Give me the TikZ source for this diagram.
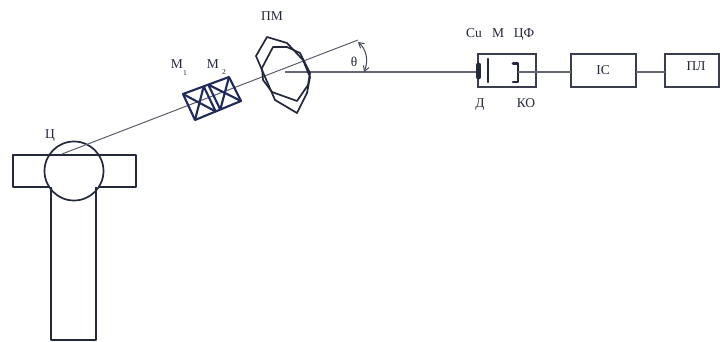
\documentclass[tikz,border=0pt]{standalone}
\usepackage{fontspec}
\setmainfont{Liberation Serif}
\usetikzlibrary{arrows.meta}
\definecolor{ink}{HTML}{23283A}
\definecolor{inkb}{HTML}{1F2A5A}
\tikzset{
  shape line/.style={draw=ink,line width=1.7pt,line join=round},
  blue line/.style={draw=inkb,line width=2.1pt,line join=round},
  ray/.style={draw=ink!75,line width=1pt},
  wire/.style={draw=ink!70,line width=1.2pt},
  blockbox/.style={draw=ink!90,line width=1.5pt,rectangle,inner sep=0pt,outer sep=0pt,anchor=north west},
  lab/.style={font=\fontsize{13.5}{14}\selectfont,text=ink,inner sep=0pt,anchor=base},
  subs/.style={font=\fontsize{7.5}{8}\selectfont,text=ink,inner sep=0pt}
}
\begin{document}
\begin{tikzpicture}[x=1pt,y=-1pt]
\useasboundingbox (0,0) rectangle (721,342);
\fill[white] (0,0) rectangle (721,342);
% stand and tube
\node[blockbox,shape line,fill=white,minimum width=123pt,minimum height=32pt] (bar) at (13,155) {};
\fill[white] (50,185.5) rectangle (98,188.5);
\draw[shape line] (51,187.5) -- (51,340) -- (96,340) -- (96,187.5);
\node[circle,shape line,minimum size=59pt,inner sep=0pt] (tube) at (74,171) {};
% rays
\coordinate (src) at (62,154);
\coordinate (rayend) at (358,40);
\coordinate (pivot) at (285,72);
\coordinate (det) at (477,72);
\draw[ray] (src) -- (rayend);
\draw[wire] (pivot) -- (det);
% angle arc
\draw[ink!85,line width=1pt,{Straight Barb[length=5pt,width=6pt]}-{Straight Barb[length=5pt,width=6pt]}]
  (358,42) .. controls (366,49) and (369,60) .. (364,72);
% collimators
\coordinate (a1) at (183,94); \coordinate (a2) at (195,120);
\coordinate (b1) at (229,77); \coordinate (b2) at (241,101);
\coordinate (c1) at (203.7,86.4); \coordinate (c2) at (215.7,111.5);
\coordinate (d1) at (208.3,84.7); \coordinate (d2) at (220.3,109.6);
\draw[blue line] (a1) -- (b1) -- (b2) -- (a2) -- cycle;
\draw[blue line] (c1) -- (c2) (d1) -- (d2);
\draw[blue line] (a1) -- (c2) (a2) -- (c1) (d1) -- (b2) (d2) -- (b1);
% PM
\draw[shape line] (267,37) -- (256,56) -- (262,70) -- (275,100) -- (297,113) -- (307,93) -- (310,77) -- (303,60) -- (287,43) -- cycle;
\draw[shape line] (273,47) -- (262,68) -- (263,80) -- (272,92) -- (297,101) -- (308,85) -- (310,73) -- (300,53) -- (287,47) -- cycle;
% detector block
\node[blockbox,minimum width=58pt,minimum height=33pt] (cell) at (478,54) {};
\node[blockbox,minimum width=65pt,minimum height=33pt] (ic) at (571,54) {};
\node[blockbox,minimum width=54pt,minimum height=33pt] (pl) at (665,54) {};
\draw[ink,line width=5pt,line cap=round] (478.5,65) -- (478.5,77);
\draw[ink,line width=2.6pt,line cap=round] (488,59) -- (488,82);
\draw[ink,line width=2.6pt,line join=round,line cap=round] (513,63.5) -- (518,63.5) -- (518,82) -- (513,82);
\coordinate (ko) at (518,72);
\coordinate (icout) at (636,72);
\draw[wire] (ko) -- (ko -| ic.west);
\draw[wire] (icout) -- (icout -| pl.west);
% labels
\node[lab] (lc) at (50,139) {Ц};
\node[lab] (lm1) at (177,69) {М};
\node[subs] (s1) at (185,73) {1};
\node[lab] (lm2) at (213,69) {М};
\node[subs] (s2) at (224,72) {2};
\node[lab] (lpm) at (272,21) {ПМ};
\node[lab] (lth) at (354,67) {θ};
\node[lab] (lcu) at (474,38) {Cu};
\node[lab] (lm) at (498,38) {М};
\node[lab] (lcf) at (524,38) {ЦФ};
\node[lab] (ld) at (480,108) {Д};
\node[lab] (lko) at (526,108) {КО};
\node[lab] (lic) at (603,75) {IС};
\node[lab] (lpl) at (696,71) {ПЛ};
\end{tikzpicture}
\end{document}
